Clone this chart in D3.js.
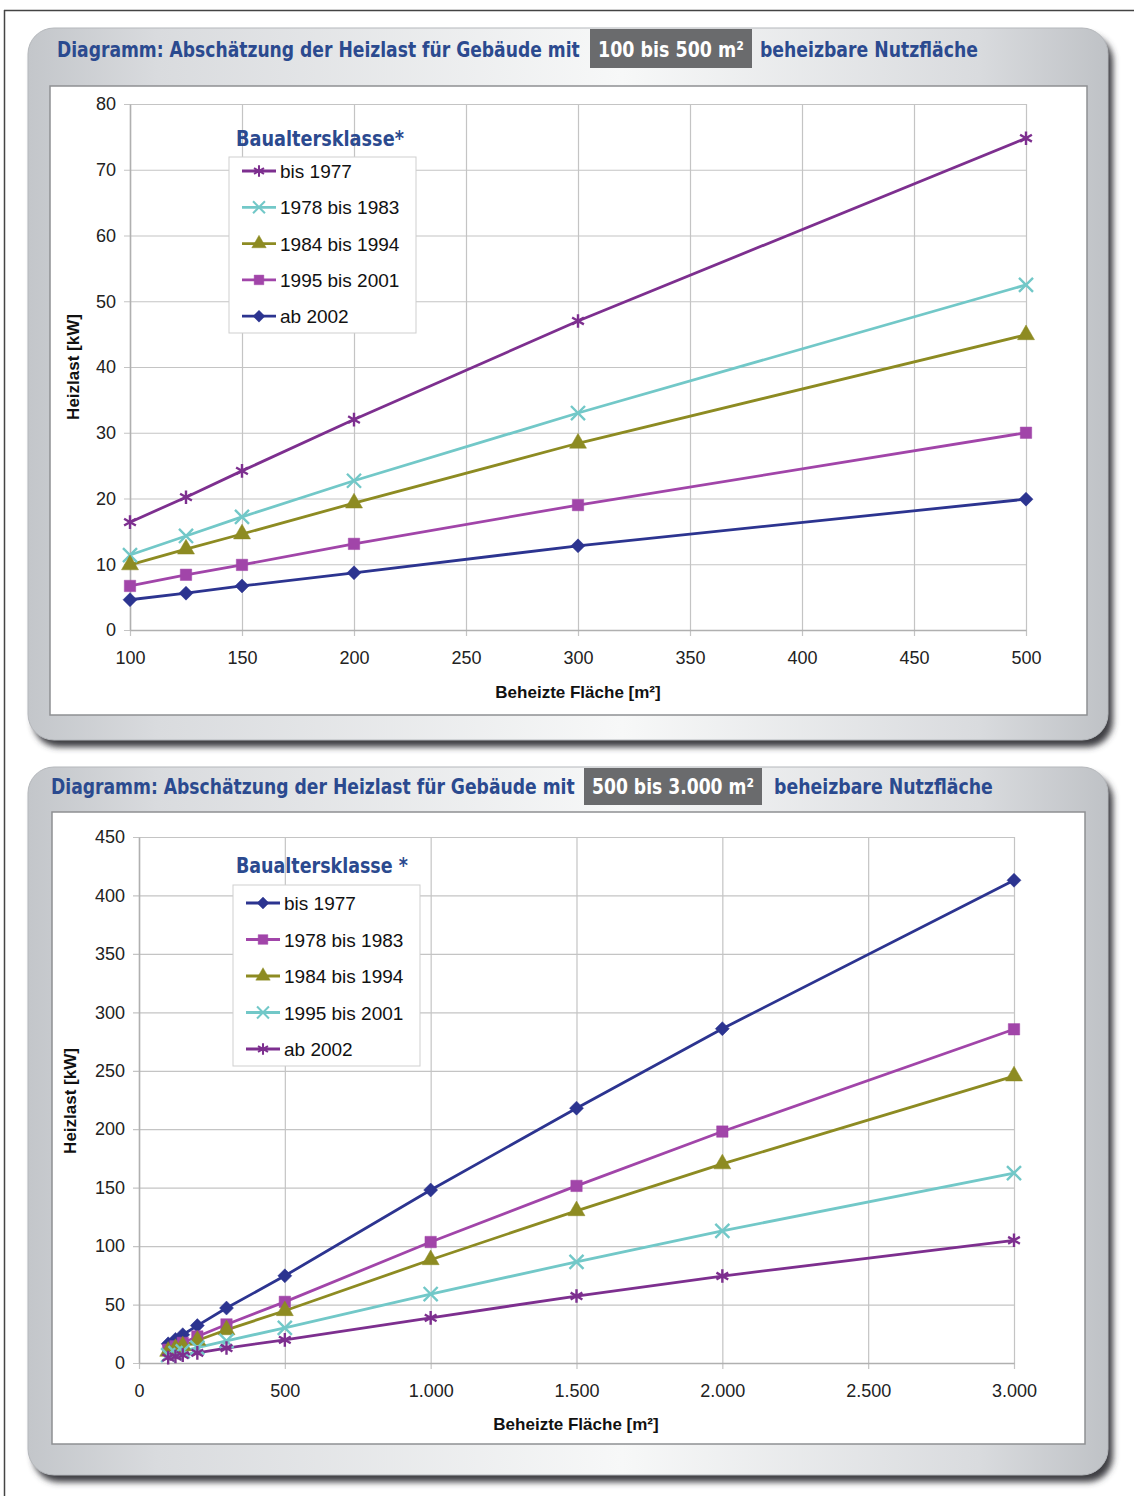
<!DOCTYPE html>
<html>
<head>
  <meta charset="utf-8">
  <title>Abschätzung der Heizlast</title>
  <script src="https://d3js.org/d3.v7.min.js"></script>
  <style>
    body { margin: 0; background: #fff; }
    text { font-family: "Liberation Sans", Arial, sans-serif; }
  </style>
</head>
<body>
  <svg id="chart"></svg>

  <script>
    // Daten: Diagramm 1 (100 bis 500 m²)
    const flaechenKlein = [100, 125, 150, 200, 300, 500];
    const klassenKlein = ["bis 1977", "1978 bis 1983", "1984 bis 1994", "1995 bis 2001", "ab 2002"];
    const bis1977Klein = [16.4, 20.2, 24.2, 32.0, 47.0, 74.8];
    const bis1983Klein = [11.4, 14.3, 17.2, 22.7, 33.0, 52.5];
    const bis1994Klein = [9.9, 12.3, 14.6, 19.3, 28.4, 44.9];
    const bis2001Klein = [6.7, 8.4, 9.9, 13.1, 19.0, 30.0];
    const ab2002Klein = [4.6, 5.6, 6.7, 8.7, 12.8, 19.9];
    const xTicksKlein = [100, 150, 200, 250, 300, 350, 400, 450, 500];
    const yTicksKlein = [0, 10, 20, 30, 40, 50, 60, 70, 80];

    // Daten: Diagramm 2 (500 bis 3.000 m²)
    const flaechenGross = [100, 125, 150, 200, 300, 500, 1000, 1500, 2000, 3000];
    const klassenGross = ["bis 1977", "1978 bis 1983", "1984 bis 1994", "1995 bis 2001", "ab 2002"];
    const bis1977Gross = [16.4, 20.2, 24.2, 32.0, 47.0, 74.6, 148, 218, 286, 413];
    const bis1983Gross = [11.4, 14.3, 17.2, 22.7, 33.0, 52.3, 103.5, 151.5, 198, 285.5];
    const bis1994Gross = [9.9, 12.3, 14.6, 19.3, 28.4, 44.7, 88.3, 130.2, 170.3, 245.5];
    const bis2001Gross = [6.7, 8.4, 9.9, 13.1, 19.0, 30.0, 59.0, 86.5, 113, 162.5];
    const ab2002Gross = [4.6, 5.6, 6.7, 8.7, 12.8, 19.8, 38.6, 57.3, 74.4, 105];
    const xTicksGross = [0, 500, 1000, 1500, 2000, 2500, 3000];
    const yTicksGross = [0, 50, 100, 150, 200, 250, 300, 350, 400, 450];

    // Farben und Marker
    const lila = "#7d2f8f", tuerkis = "#72c8c8", oliv = "#8d8b22", magenta = "#a145a9", navy = "#2c3490";
    const blauTitel = "#2b4a8f";
    const condensed = "'Liberation Sans Narrow', 'DejaVu Sans Condensed', 'Open Sans', sans-serif";

    const svg = d3.select("#chart").attr("width", 1134).attr("height", 1496);

    // Verläufe und Schatten
    const defs = svg.append("defs");
    const grad = defs.append("linearGradient").attr("id", "panelGrad")
      .attr("x1", "0%").attr("x2", "100%").attr("y1", "0%").attr("y2", "0%");
    grad.append("stop").attr("offset", "0%").attr("stop-color", "#c3c6ca");
    grad.append("stop").attr("offset", "12%").attr("stop-color", "#d9dbde");
    grad.append("stop").attr("offset", "55%").attr("stop-color", "#f7f8f8");
    grad.append("stop").attr("offset", "88%").attr("stop-color", "#d9dbde");
    grad.append("stop").attr("offset", "100%").attr("stop-color", "#bfc2c6");
    const blur = defs.append("filter").attr("id", "shadow")
      .attr("x", "-5%").attr("y", "-5%").attr("width", "110%").attr("height", "110%");
    blur.append("feGaussianBlur").attr("stdDeviation", 3);

    // Seitenrahmen
    svg.append("line").attr("x1", 4).attr("x2", 1134).attr("y1", 10.5).attr("y2", 10.5)
      .attr("stroke", "#444").attr("stroke-width", 1.5);
    svg.append("line").attr("x1", 4.5).attr("x2", 4.5).attr("y1", 10).attr("y2", 1496)
      .attr("stroke", "#444").attr("stroke-width", 1.5);

    // Schmaler Text: auf gewünschte Breite horizontal skaliert
    function schmalText(parent, x, y, breite, text, farbe, anker) {
      const t = parent.append("text")
        .style("font-family", condensed).style("font-weight", "bold").style("font-size", "21px")
        .attr("fill", farbe).attr("text-anchor", anker || "start").text(text);
      const sx = breite / t.node().getComputedTextLength();
      t.attr("transform", `translate(${x},${y}) scale(${sx},1)`);
      return t;
    }

    // Marker
    const istStrich = t => t === "stern" || t === "kreuz";
    function marker(typ) {
      if (typ === "stern") return d3.symbol().type(d3.symbolAsterisk).size(130)();
      if (typ === "kreuz") return d3.symbol().type(d3.symbolTimes).size(130)();
      if (typ === "dreieck") return d3.symbol().type(d3.symbolTriangle).size(125)();
      if (typ === "quadrat") return d3.symbol().type(d3.symbolSquare).size(130)();
      return "M0,-7L7,0L0,7L-7,0Z"; // Raute
    }
    function markerStil(sel) {
      sel.attr("d", d => marker(d.typ))
        .attr("fill", d => istStrich(d.typ) ? "none" : d.farbe)
        .attr("stroke", d => d.farbe)
        .attr("stroke-width", d => istStrich(d.typ) ? 2.4 : 0.5);
    }

    function zeichneDiagramm(cfg) {
      const g = svg.append("g");
      const p = cfg.panel, b = cfg.box;

      // Panel mit Schatten
      g.append("rect").attr("x", p.x + 5).attr("y", p.y + 7).attr("width", p.w).attr("height", p.h)
        .attr("rx", 26).attr("fill", "#3c3e42").attr("filter", "url(#shadow)");
      g.append("rect").attr("x", p.x).attr("y", p.y).attr("width", p.w).attr("height", p.h)
        .attr("rx", 26).attr("fill", "url(#panelGrad)").attr("stroke", "#b5b8bc");

      // Titel
      schmalText(g, cfg.titel.x, cfg.titel.y, cfg.titel.len,
        "Diagramm: Abschätzung der Heizlast für Gebäude mit", blauTitel);
      g.append("rect").attr("x", cfg.hl.x).attr("y", cfg.hl.y).attr("width", cfg.hl.w).attr("height", cfg.hl.h)
        .attr("fill", "#6a6b6d");
      schmalText(g, cfg.hl.x + cfg.hl.w / 2, cfg.titel.y, cfg.hl.len, cfg.hl.text, "#fff", "middle");
      schmalText(g, cfg.rest.x, cfg.titel.y, cfg.rest.len, "beheizbare Nutzfläche", blauTitel);

      // Weiße Diagrammfläche
      g.append("rect").attr("x", b.x).attr("y", b.y).attr("width", b.w).attr("height", b.h)
        .attr("fill", "#fff").attr("stroke", "#8e9093").attr("stroke-width", 1.5);

      const x = d3.scaleLinear().domain(cfg.xDomain).range(cfg.xRange);
      const y = d3.scaleLinear().domain(cfg.yDomain).range(cfg.yRange);

      // Gitternetz
      g.append("g").attr("transform", `translate(0,${cfg.yRange[1]})`)
        .call(d3.axisBottom(x).tickValues(cfg.xTicks).tickSize(cfg.yRange[0] - cfg.yRange[1] + 6).tickFormat(""))
        .call(a => a.select(".domain").remove())
        .call(a => a.selectAll("line").attr("stroke", "#c4c4c4").attr("stroke-width", 1.2));
      g.append("g").attr("transform", `translate(${cfg.xRange[1]},0)`)
        .call(d3.axisLeft(y).tickValues(cfg.yTicks).tickSize(cfg.xRange[1] - cfg.xRange[0] + 6).tickFormat(""))
        .call(a => a.select(".domain").remove())
        .call(a => a.selectAll("line").attr("stroke", "#c4c4c4").attr("stroke-width", 1.2));

      // Achsen
      const xAxis = g.append("g").attr("transform", `translate(0,${cfg.yRange[0]})`)
        .call(d3.axisBottom(x).tickValues(cfg.xTicks).tickSize(0).tickPadding(21).tickFormat(cfg.fmt));
      const yAxis = g.append("g").attr("transform", `translate(${cfg.xRange[0]},0)`)
        .call(d3.axisLeft(y).tickValues(cfg.yTicks).tickSize(0).tickPadding(cfg.yPad));
      [xAxis, yAxis].forEach(a => {
        a.select(".domain").attr("stroke", "#b0b0b0").attr("stroke-width", 1.5);
        a.selectAll("text").style("font-family", "'Liberation Sans', Arial, sans-serif")
          .style("font-size", "18px").attr("fill", "#222");
      });

      g.append("text").attr("x", cfg.xTitel.x).attr("y", cfg.xTitel.y).attr("text-anchor", "middle")
        .style("font-weight", "bold").style("font-size", "17px").attr("fill", "#111")
        .text("Beheizte Fläche [m²]");
      g.append("text").attr("transform", `translate(${cfg.yTitel.x},${cfg.yTitel.y}) rotate(-90)`)
        .attr("text-anchor", "middle")
        .style("font-weight", "bold").style("font-size", "17px").attr("fill", "#111")
        .text("Heizlast [kW]");

      // Linien und Marker
      const line = d3.line().x((d, i) => x(cfg.flaechen[i])).y(d => y(d));
      cfg.reihen.forEach(r => {
        g.append("path").datum(r.werte).attr("d", line)
          .attr("fill", "none").attr("stroke", r.farbe).attr("stroke-width", 2.8);
      });
      cfg.reihen.forEach(r => {
        g.append("g").selectAll("path")
          .data(r.werte.map((v, i) => ({ v, f: cfg.flaechen[i], typ: r.typ, farbe: r.farbe })))
          .join("path")
          .attr("transform", d => `translate(${x(d.f)},${y(d.v)})`)
          .call(markerStil);
      });

      // Legende
      const L = cfg.legende;
      g.append("rect").attr("x", L.x).attr("y", L.y).attr("width", L.w).attr("height", L.h)
        .attr("fill", "#fff").attr("stroke", "#cfcfcf");
      schmalText(g, L.titelX, L.titelY, L.titelLen, L.titel, blauTitel);
      const eintrag = g.append("g").selectAll("g").data(cfg.reihen).join("g")
        .attr("transform", (d, i) => `translate(${L.x + 13},${L.y0 + i * L.dy})`);
      eintrag.append("line").attr("x1", 0).attr("x2", 34).attr("stroke", d => d.farbe).attr("stroke-width", 2.8);
      eintrag.append("path").attr("transform", "translate(17,0) scale(0.85)").call(markerStil);
      eintrag.append("text").attr("x", 38).attr("y", 7)
        .style("font-size", "19px").attr("fill", "#111").text(d => d.name);
    }

    // Diagramm 1
    const reihenKlein = [
      { name: klassenKlein[0], werte: bis1977Klein, farbe: lila, typ: "stern" },
      { name: klassenKlein[1], werte: bis1983Klein, farbe: tuerkis, typ: "kreuz" },
      { name: klassenKlein[2], werte: bis1994Klein, farbe: oliv, typ: "dreieck" },
      { name: klassenKlein[3], werte: bis2001Klein, farbe: magenta, typ: "quadrat" },
      { name: klassenKlein[4], werte: ab2002Klein, farbe: navy, typ: "raute" }
    ];
    zeichneDiagramm({
      panel: { x: 28, y: 28, w: 1080, h: 712 },
      box: { x: 50, y: 86, w: 1037, h: 629 },
      titel: { x: 57, y: 57, len: 523 },
      hl: { x: 590, y: 29, w: 162, h: 39, len: 146, text: "100 bis 500 m²" },
      rest: { x: 760, len: 218 },
      xDomain: [100, 500], xRange: [130, 1026],
      yDomain: [0, 80], yRange: [630, 104],
      xTicks: xTicksKlein, yTicks: yTicksKlein, yPad: 14,
      fmt: d3.format("d"),
      xTitel: { x: 578, y: 698 }, yTitel: { x: 79, y: 367 },
      flaechen: flaechenKlein,
      reihen: reihenKlein,
      legende: { x: 229, y: 157, w: 187, h: 176, titelX: 236, titelY: 146, titelLen: 168,
                 titel: "Baualtersklasse*", y0: 171, dy: 36.3 }
    });

    // Diagramm 2
    const deLocale = d3.formatLocale({ decimal: ",", thousands: ".", grouping: [3], currency: ["", " €"] });
    const reihenGross = [
      { name: klassenGross[0], werte: bis1977Gross, farbe: navy, typ: "raute" },
      { name: klassenGross[1], werte: bis1983Gross, farbe: magenta, typ: "quadrat" },
      { name: klassenGross[2], werte: bis1994Gross, farbe: oliv, typ: "dreieck" },
      { name: klassenGross[3], werte: bis2001Gross, farbe: tuerkis, typ: "kreuz" },
      { name: klassenGross[4], werte: ab2002Gross, farbe: lila, typ: "stern" }
    ];
    zeichneDiagramm({
      panel: { x: 28, y: 767, w: 1080, h: 708 },
      box: { x: 52, y: 812, w: 1033, h: 632 },
      titel: { x: 51, y: 794, len: 524 },
      hl: { x: 584, y: 768, w: 178, h: 37, len: 162, text: "500 bis 3.000 m²" },
      rest: { x: 774, len: 219 },
      xDomain: [0, 3000], xRange: [139, 1014],
      yDomain: [0, 450], yRange: [1363, 837],
      xTicks: xTicksGross, yTicks: yTicksGross, yPad: 14,
      fmt: deLocale.format(","),
      xTitel: { x: 576, y: 1430 }, yTitel: { x: 76, y: 1101 },
      flaechen: flaechenGross,
      reihen: reihenGross,
      legende: { x: 233, y: 885, w: 187, h: 181, titelX: 236, titelY: 873, titelLen: 172,
                 titel: "Baualtersklasse *", y0: 903, dy: 36.5 }
    });
  </script>
</body>
</html>
